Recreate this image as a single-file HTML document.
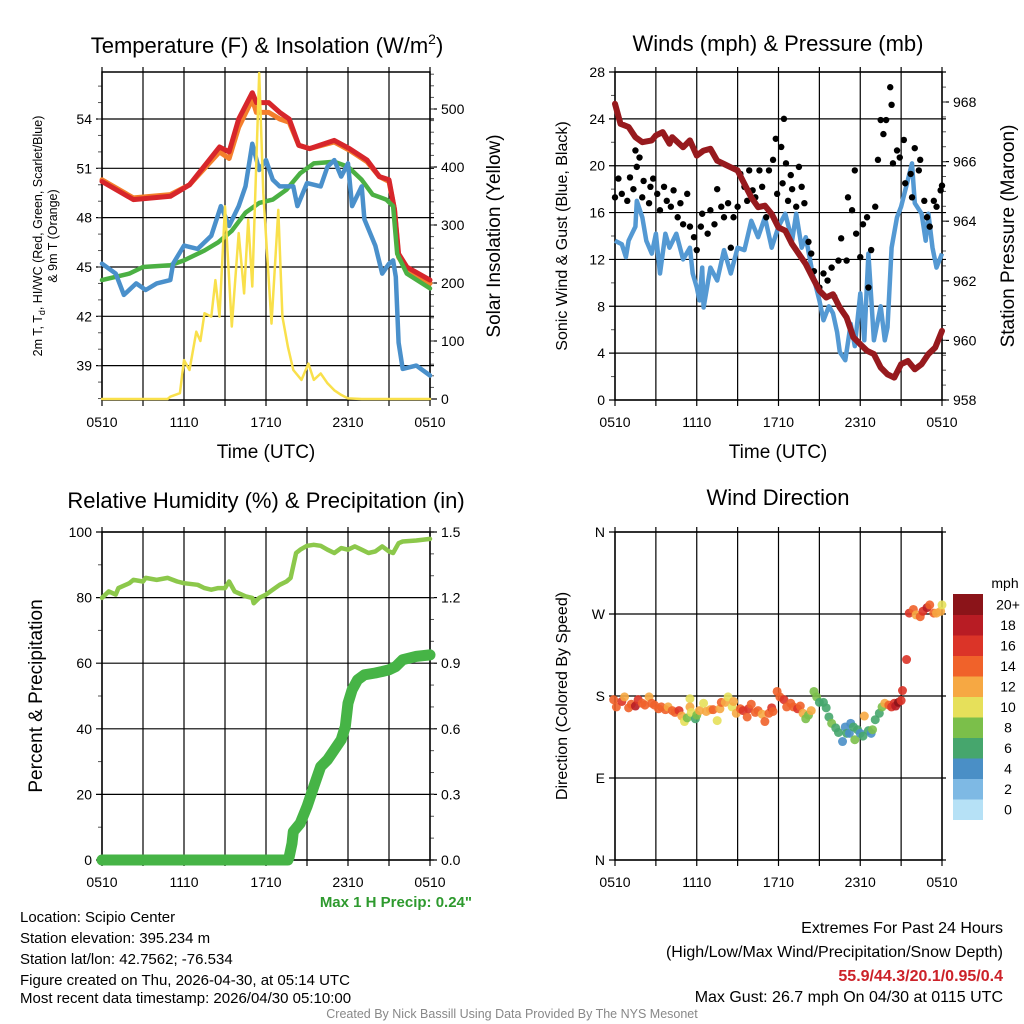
<!DOCTYPE html>
<html><head><meta charset="utf-8"><style>
html,body{margin:0;padding:0;background:#fff;}
svg{display:block;font-family:"Liberation Sans",Arial,sans-serif;}
</style></head><body>
<svg id="chart" width="1024" height="1024" viewBox="0 0 1024 1024" xmlns="http://www.w3.org/2000/svg">
<rect x="0" y="0" width="1024" height="1024" fill="#fff"/>
<g id="grid"></g><g id="series"></g><g id="axes"></g>
<g font-size="22" fill="#000" text-anchor="middle">
<text x="267" y="53">Temperature (F) &amp; Insolation (W/m<tspan font-size="14" dy="-9">2</tspan><tspan dy="9">)</tspan></text>
<text x="778" y="51">Winds (mph) &amp; Pressure (mb)</text>
<text x="266" y="508">Relative Humidity (%) &amp; Precipitation (in)</text>
<text x="778" y="505">Wind Direction</text>
</g>
<g font-size="19" text-anchor="middle">
<text x="266" y="458">Time (UTC)</text>
<text x="778" y="458">Time (UTC)</text>
<text transform="translate(500,236) rotate(-90)">Solar Insolation (Yellow)</text>
<text transform="translate(1014,236) rotate(-90)">Station Pressure (Maroon)</text>
<text transform="translate(42,696) rotate(-90)">Percent &amp; Precipitation</text>
</g>
<g font-size="16" text-anchor="middle">
<text transform="translate(567,236) rotate(-90)">Sonic Wind &amp; Gust (Blue, Black)</text>
<text transform="translate(567,696) rotate(-90)">Direction (Colored By Speed)</text>
</g>
<g font-size="12.5" text-anchor="middle">
<text transform="translate(42,236) rotate(-90)">2m T, T<tspan font-size="9" dy="3">d</tspan><tspan dy="-3">, HI/WC (Red, Green, Scarlet/Blue)</tspan></text>
<text transform="translate(57,236) rotate(-90)">&amp; 9m T (Orange)</text>
</g>
<text x="472" y="907" font-size="15" font-weight="bold" fill="#2e9a2e" text-anchor="end">Max 1 H Precip: 0.24"</text>
<g font-size="15" fill="#000">
<text x="20" y="922">Location: Scipio Center</text>
<text x="20" y="943">Station elevation: 395.234 m</text>
<text x="20" y="964">Station lat/lon: 42.7562; -76.534</text>
<text x="20" y="985">Figure created on Thu, 2026-04-30, at 05:14 UTC</text>
<text x="20" y="1003">Most recent data timestamp: 2026/04/30 05:10:00</text>
</g>
<g font-size="16" text-anchor="end">
<text x="1003" y="933">Extremes For Past 24 Hours</text>
<text x="1003" y="957">(High/Low/Max Wind/Precipitation/Snow Depth)</text>
<text x="1003" y="981" font-weight="bold" fill="#cc2229">55.9/44.3/20.1/0.95/0.4</text>
<text x="1003" y="1002">Max Gust: 26.7 mph On 04/30 at 0115 UTC</text>
</g>
<text x="512" y="1018" font-size="12.5" fill="#888" text-anchor="middle">Created By Nick Bassill Using Data Provided By The NYS Mesonet</text>
<text x="1005" y="588" font-size="14" text-anchor="middle">mph</text>
</svg>
<script>
// ---------- data ----------
const xTickLabels = ["0510","1110","1710","2310","0510"];
// Temperature panel
const tHours = [0,2.3,5,6.4,8.6,9.3,10,11,11.3,12.2,13,13.7,14.4,15.2,17,18.1,19.4,20.3,21,21.4,21.7,22.3,24];
const tRed   = [50.2,49.1,49.3,50.0,52.3,52.0,54.0,55.6,55.0,55.0,54.4,54.0,52.4,52.2,52.7,52.2,51.5,50.5,50.3,48.5,45.8,45.0,44.2];
const tOrange= [50.3,49.2,49.4,50.0,52.0,51.6,53.5,55.2,54.4,54.4,54.0,53.8,52.4,52.2,52.6,52.1,51.4,50.5,50.2,48.5,45.6,44.8,44.0];
const gHours = [0,2,3,5,6,7.5,8.5,9.5,10.5,11.5,12.5,13.5,14.5,15.5,17,18,19,19.8,20.8,21.3,21.6,22.3,24];
const tGreen = [44.2,44.6,45.0,45.1,45.4,46.0,46.5,47.2,48.3,48.9,49.1,49.7,50.7,51.3,51.4,51.1,50.3,49.4,49.1,48.7,45.8,44.6,43.7];
const bHours = [0,1,1.6,2.5,3.2,4,5,5.2,6,7,8,8.7,9.3,10,10.5,11,11.5,12,12.5,13,14,14.3,15,16,16.5,17,17.5,18,18.3,19,19.2,20,20.5,21,21.3,21.5,21.7,22,23,24];
const tBlue  = [45.2,44.6,43.3,44.0,43.6,44.0,44.2,45.2,46.3,46.1,46.9,48.7,47.5,48.7,49.9,52.5,50.9,51.5,50.3,49.9,49.9,48.7,50.1,49.9,51.1,51.5,50.5,51.3,48.7,49.9,47.9,46.3,44.6,45.2,45.4,44.4,40.4,38.8,39.0,38.4];
const sHours = [0,4.8,5,5.7,6,6.4,6.9,7.2,7.5,8,8.3,8.6,9,9.5,10,10.4,10.7,11,11.5,11.8,12.4,12.9,13.2,13.6,14,14.6,15.1,15.5,16,16.5,17,17.5,18,19,24];
const solar  = [0,0,4,10,67,50,116,100,148,142,205,142,332,125,286,182,309,194,562,355,130,326,142,90,50,33,61,33,44,27,15,7,1,0,0];
// Wind panel
const pHours = [0,0.4,1,1.5,2,2.7,3,3.5,4,4.2,5,5.5,6,6.5,7,7.5,8,8.5,9,9.5,10,10.5,11,11.5,12,12.5,13,13.5,14,14.5,15,15.5,16,16.5,17,17.5,18,18.5,19,19.5,20,20.5,21,21.5,22,22.5,23,23.5,24];
const pressure = [967.94,967.27,967.16,966.82,966.65,966.71,966.88,966.99,966.6,966.82,966.48,966.71,966.2,966.37,966.43,966.03,965.92,965.81,965.7,965.25,964.8,964.47,964.52,964.24,963.79,963.68,963.23,962.9,962.56,962.11,961.67,961.44,961.55,961.1,960.77,960.1,959.87,959.65,959.54,959.09,958.86,958.75,959.2,959.31,959.03,959.2,959.54,959.76,960.32];
const wHours = [0,0.5,0.8,1,1.5,1.6,2,2.3,2.7,3,3.3,3.7,4,4.5,5,5.5,5.7,6,6.2,6.4,6.5,7,7.5,8,8.5,9,9.5,10,10.5,11,11.5,12,12.5,13,13.3,13.7,14,14.5,15,15.3,15.7,16,16.3,16.5,16.9,17.3,17.6,18,18.3,18.6,19,19.5,19.8,20,20.3,20.7,21,21.5,21.8,22,22.5,22.8,23,23.3,23.6,24];
const sonic = [13.6,13.3,12.2,13.6,14.8,17.0,15.6,13.6,12.5,14.2,10.8,14.2,13.0,14.2,12.0,13.0,10.8,9.6,8.5,11.3,7.9,11.3,10.2,12.8,10.8,13.0,12.8,15.3,13.9,15.6,13.0,14.8,15.9,13.6,15.9,13.0,13.9,10.8,8.5,6.8,8.0,7.4,5.8,4.1,3.4,6.5,4.6,9.1,5.1,12.5,5.1,8.0,5.1,6.2,13.0,15.6,16.5,18.8,20.2,16.8,15.9,13.6,15.9,13.0,11.3,12.5];
const gustHours = [0,0.25,0.5,0.9,1.1,1.35,1.5,1.6,1.8,2,2.1,2.5,2.6,2.8,3.1,3.3,3.6,3.8,4.1,4.3,4.6,4.8,5,5.3,5.5,5.8,6,6.3,6.4,6.8,7,7.3,7.5,7.8,8,8.3,8.5,8.7,9,9.2,9.5,9.7,9.85,10.1,10.3,10.6,10.8,11.1,11.3,11.6,11.8,11.9,12.2,12.3,12.4,12.55,12.7,12.9,13,13.3,13.5,13.7,13.9,14.2,14.4,14.6,15,15.3,15.6,15.9,16.1,16.4,16.6,17,17.1,17.4,17.6,17.7,18,18.2,18.5,18.6,18.8,19.1,19.3,19.5,19.7,19.9,20.2,20.3,20.4,20.7,20.9,21.2,21.3,21.7,21.8,22,22.3,22.4,22.7,22.9,23.1,23.4,23.6,23.9,24];
const gustVals  = [17.3,18.9,17.6,17,19,18,21.3,19.9,20.7,17.3,18.7,16.8,18.2,18.9,17.6,16.2,18.2,17,16.5,17.9,15.6,16.8,15,17.6,14.8,13.9,12.8,14.8,15.9,14.2,16.2,15,18,16.5,15.6,16.8,13,15.6,16.5,19.3,18.2,17,19.6,17.9,17.3,19.6,18.2,15.6,19.6,20.5,22.3,17.6,21.6,18.5,24,20.2,17,19.2,18,16.5,19.9,18.2,16.8,13.5,12.5,11,9.6,10.8,10.2,11.3,8.8,11.9,13.8,11.9,17.3,16.2,19.6,14.2,12.2,15,15.6,9.6,12.8,16.5,20.5,23.9,22.7,23.9,26.7,25.2,20.2,21.3,20.7,22.2,18.5,19.3,17.3,21.5,19.6,20.5,17,15.6,14.8,17,16.5,17.9,18.3];
// Humidity / precip panel
const rhHours = [0,0.5,1,1.2,2,2.3,3,3.2,4,4.8,5.5,6,7,7.5,8,8.5,9,9.3,9.7,10.5,11,11.1,11.5,12,12.5,13,13.5,13.8,14.2,14.5,15,15.5,16,16.5,17,17.5,18,18.5,19,19.5,20,20.5,21,21.3,21.7,22,23,24];
const rh = [79.9,81.9,80.9,82.9,84.4,85.4,84.9,86.0,85.4,86.0,84.9,84.4,83.9,82.9,82.4,82.9,82.9,84.9,81.9,80.4,79.9,78.3,79.9,80.9,82.4,83.9,84.9,86.0,93.6,94.6,95.8,96.1,95.8,94.6,93.6,95.1,94.6,95.6,94.6,93.6,94.1,95.6,94.1,93.6,96.6,97.1,97.4,97.9];
const prHours = [0,13.6,13.7,13.9,14,14.5,15,15.5,16,16.5,17,17.5,17.8,18,18.3,18.7,19.2,20,20.5,21,21.5,22,23,24];
const precip = [0,0,0.015,0.076,0.13,0.168,0.244,0.336,0.427,0.458,0.504,0.55,0.61,0.717,0.778,0.824,0.847,0.855,0.862,0.87,0.885,0.916,0.931,0.938];
// Wind direction panel
const dirHours = [-0.1,0.1,0.5,0.7,1,1.2,1.5,1.7,2,2.2,2.5,2.7,2.9,3.2,3.4,3.7,3.9,4.2,4.4,4.7,4.9,5.1,5.3,5.5,5.5,5.6,5.9,6,6.2,6.5,6.7,7,7.2,7.5,7.7,7.8,8.1,8.3,8.6,8.7,8.9,9.2,9.4,9.7,9.8,10.0,10.3,10.5,10.8,11,11.3,11.5,11.6,11.9,12.1,12.4,12.6,12.9,13.1,13.4,13.6,13.8,14.0,14.2,14.4,14.6,14.8,15.0,15.3,15.5,15.7,15.9,16.2,16.4,16.7,16.9,17.0,17.2,17.3,17.5,17.6,17.8,18.0,18.2,18.3,18.6,18.8,18.9,19.1,19.4,19.6,19.8,20.1,20.3,20.5,20.6,20.8,21.0,21.1,21.4,21.6,21.9,22.1,22.4,22.6,22.9,23.1,23.4,23.6,23.9,24.0];
const dirDeg = [176,168,174,179,167,171,169,176,172,170,179,172,170,166,168,165,168,164,162,164,158,152,156,177,168,162,155,159,164,172,163,165,165,153,166,173,173,179,168,174,161,166,164,157,166,171,162,164,160,152,161,167,163,185,179,176,168,172,168,166,169,161,155,159,164,185,179,173,173,167,157,150,145,140,130,146,139,139,150,146,132,143,139,136,158,142,139,143,154,161,168,172,170,168,172,169,173,175,186,220,271,275,269,267,273,277,280,271,271,273,280];
const dirSpeed = [14,15,16,12,15,14,18,16,15,14,12,14,15,14,15,14,12,15,14,16,12,10,8,10,12,10,7,9,12,10,12,12,14,10,12,14,12,10,10,12,12,14,16,14,16,14,14,15,12,15,14,16,14,15,14,16,14,14,15,16,14,12,8,9,12,8,8,7,6,6,7,8,6,6,4,4,6,4,4,6,8,7,4,6,13,6,4,8,7,6,8,13,15,16,17,18,20,17,16,16,16,15,12,15,16,18,15,14,13,12,11];
const cbColors = ["#b6e1f6","#7eb9e4","#4a8fc6","#46a66d","#7bbf4a","#e6e05a","#f6a843","#f0622a","#db3428","#b81c24","#8b1419"];
const cbLabels = ["0","2","4","6","8","10","12","14","16","18","20+"];
const dirLabels = ["N","E","S","W","N"];

// ---------- helpers ----------
const NS = "http://www.w3.org/2000/svg";
const gGrid = document.getElementById("grid"), gSer = document.getElementById("series"), gAx = document.getElementById("axes");
function mk(tag, parent, attrs){ const e=document.createElementNS(NS,tag); for(const k in attrs) e.setAttribute(k,attrs[k]); parent.appendChild(e); return e; }
function line(parent,x1,y1,x2,y2,w,c){ return mk("line",parent,{x1:x1,y1:y1,x2:x2,y2:y2,stroke:c||"#000","stroke-width":w||1}); }
function txt(parent,x,y,s,anchor,size){ const t=mk("text",parent,{x:x,y:y,"font-size":size||14,"text-anchor":anchor||"middle"}); t.textContent=s; return t; }
function pathOf(xs,ys,fx,fy){ return xs.map((h,i)=>(i?"L":"M")+fx(h).toFixed(1)+","+fy(ys[i]).toFixed(1)).join(""); }

function panel(x0,x1,y0,y1,name){
  const g=mk("g",gGrid,{});
  
  
  return g;
}
function xAxis(g,x0,x1,y0,y1){
  for(let i=0;i<=8;i++){ const x=x0+i*(x1-x0)/8; line(g,x,y0-5,x,y1+6,1.2,"#000"); }
  xTickLabels.forEach((s,i)=>{ const t=txt(gAx,x0+i*(x1-x0)/4,y1+27,s,"middle",14);
    
     });
}
function yAxis(g,side,x0,x1,ticks,minors,fy,fmt,grid){
  const ax = side==="l"?x0:x1, d = side==="l"?-1:1;
  ticks.forEach(v=>{ const y=fy(v);
    if(grid) line(g,x0-6,y,x1+4,y,1.2,"#000"); else line(g,ax,y,ax+d*7,y,1.2,"#000");
    const t=txt(gAx, side==="l"?ax-10:ax+11, y+5, fmt(v), side==="l"?"end":"start",14);
    
     });
  minors.forEach(v=>{ const y=fy(v); line(g,ax,y,ax+d*4,y,1,"#555"); });
}
function range(a,b,s){ const r=[]; for(let v=a; v<=b+1e-9; v+=s) r.push(+v.toFixed(4)); return r; }

// ---------- Panel 1: temperature ----------
{
  const X0=102,X1=430,Y0=72,Y1=400;
  const fx=h=>X0+h*(X1-X0)/24, fT=t=>119+(54-t)*49.33/3, fW=w=>399-w*0.58;
  const g=panel(X0,X1,Y0,Y1,"temperature-panel");
  xAxis(g,X0,X1,Y0,Y1);
  yAxis(g,"l",X0,X1,[39,42,45,48,51,54],range(37,56,1),fT,v=>v,true);
  yAxis(g,"r",X0,X1,[0,100,200,300,400,500],range(20,560,20),fW,v=>v,false);
  mk("rect",g,{x:X0,y:Y0,width:X1-X0,height:Y1-Y0,fill:"none",stroke:"#000","stroke-width":1.5});
  const sty={fill:"none","stroke-linejoin":"round","stroke-linecap":"round"};
  let p;
  p=mk("path",gSer,Object.assign({d:pathOf(tHours,tOrange,fx,fT),stroke:"#f47f2b","stroke-width":5},sty));
   
  p=mk("path",gSer,Object.assign({d:pathOf(tHours,tRed,fx,fT),stroke:"#d7262b","stroke-width":5},sty));
   
  p=mk("path",gSer,Object.assign({d:pathOf(gHours,tGreen,fx,fT),stroke:"#4bb043","stroke-width":4.5},sty));
   
  p=mk("path",gSer,Object.assign({d:pathOf(bHours,tBlue,fx,fT),stroke:"#4a90cb","stroke-width":4.5},sty));
   
  p=mk("path",gSer,Object.assign({d:pathOf(sHours,solar,fx,fW),stroke:"#f9e04b","stroke-width":2.5},sty));
   
}
// ---------- Panel 2: wind & pressure ----------
{
  const X0=615,X1=942,Y0=72,Y1=400;
  const fx=h=>X0+h*(X1-X0)/24, fS=m=>400-m*(328/28), fP=p=>400-(p-958)*29.8;
  const g=panel(X0,X1,Y0,Y1,"wind-panel");
  xAxis(g,X0,X1,Y0,Y1);
  yAxis(g,"l",X0,X1,[0,4,8,12,16,20,24,28],range(2,26,4),fS,v=>v,true);
  yAxis(g,"r",X0,X1,[958,960,962,964,966,968],range(958.5,968.5,0.5),fP,v=>v,false);
  mk("rect",g,{x:X0,y:Y0,width:X1-X0,height:Y1-Y0,fill:"none",stroke:"#000","stroke-width":1.5});
  let p=mk("path",gSer,{d:pathOf(wHours,sonic,fx,fS),stroke:"#5499d3","stroke-width":4.5,fill:"none","stroke-linejoin":"round"});
   
  gustHours.forEach((h,i)=>{ const c=mk("circle",gSer,{cx:fx(h),cy:fS(gustVals[i]),r:3.2,fill:"#000"});
    
     });
  p=mk("path",gSer,{d:pathOf(pHours,pressure,fx,fP),stroke:"#971a1e","stroke-width":6,fill:"none","stroke-linejoin":"round","stroke-linecap":"round"});
   
}
// ---------- Panel 3: RH & precip ----------
{
  const X0=102,X1=430,Y0=532,Y1=860;
  const fx=h=>X0+h*(X1-X0)/24, fR=r=>860-r*3.28, fPr=p=>860-p*218.67;
  const g=panel(X0,X1,Y0,Y1,"humidity-panel");
  xAxis(g,X0,X1,Y0,Y1);
  yAxis(g,"l",X0,X1,[0,20,40,60,80,100],range(10,90,20),fR,v=>v,true);
  yAxis(g,"r",X0,X1,[0,0.3,0.6,0.9,1.2,1.5],range(0.1,1.4,0.1),fPr,v=>v.toFixed(1),false);
  mk("rect",g,{x:X0,y:Y0,width:X1-X0,height:Y1-Y0,fill:"none",stroke:"#000","stroke-width":1.5});
  let p=mk("path",gSer,{d:pathOf(rhHours,rh,fx,fR),stroke:"#8cc84b","stroke-width":4.5,fill:"none","stroke-linejoin":"round","stroke-linecap":"round"});
   
  p=mk("path",gSer,{d:pathOf(prHours,precip,fx,fPr),stroke:"#46b446","stroke-width":11,fill:"none","stroke-linejoin":"round","stroke-linecap":"round"});
   
}
// ---------- Panel 4: wind direction ----------
{
  const X0=615,X1=942,Y0=532,Y1=860;
  const fx=h=>X0+h*(X1-X0)/24, fD=d=>860-d*328/360;
  const g=panel(X0,X1,Y0,Y1,"direction-panel");
  xAxis(g,X0,X1,Y0,Y1);
  yAxis(g,"l",X0,X1,[0,90,180,270,360],[],fD,v=>dirLabels[v/90],true);
  mk("rect",g,{x:X0,y:Y0,width:X1-X0,height:Y1-Y0,fill:"none",stroke:"#000","stroke-width":1.5});
  dirHours.forEach((h,i)=>{ const bin=Math.min(10,Math.floor(dirSpeed[i]/2));
    const c=mk("circle",gSer,{cx:fx(h),cy:fD(dirDeg[i]),r:4.5,fill:cbColors[bin],"fill-opacity":0.9});
    
     });
  const cbX=953,cbTop=594,cbH=20.5;
  cbColors.forEach((c,i)=>{ const y=cbTop+(10-i)*cbH;
    const r=mk("rect",gAx,{x:cbX,y:y,width:30,height:cbH+0.5,fill:c});
    
    
    const t=txt(gAx,1008,y+cbH/2+5,cbLabels[i],"middle",14);
    
     });
}
</script>
</body></html>
